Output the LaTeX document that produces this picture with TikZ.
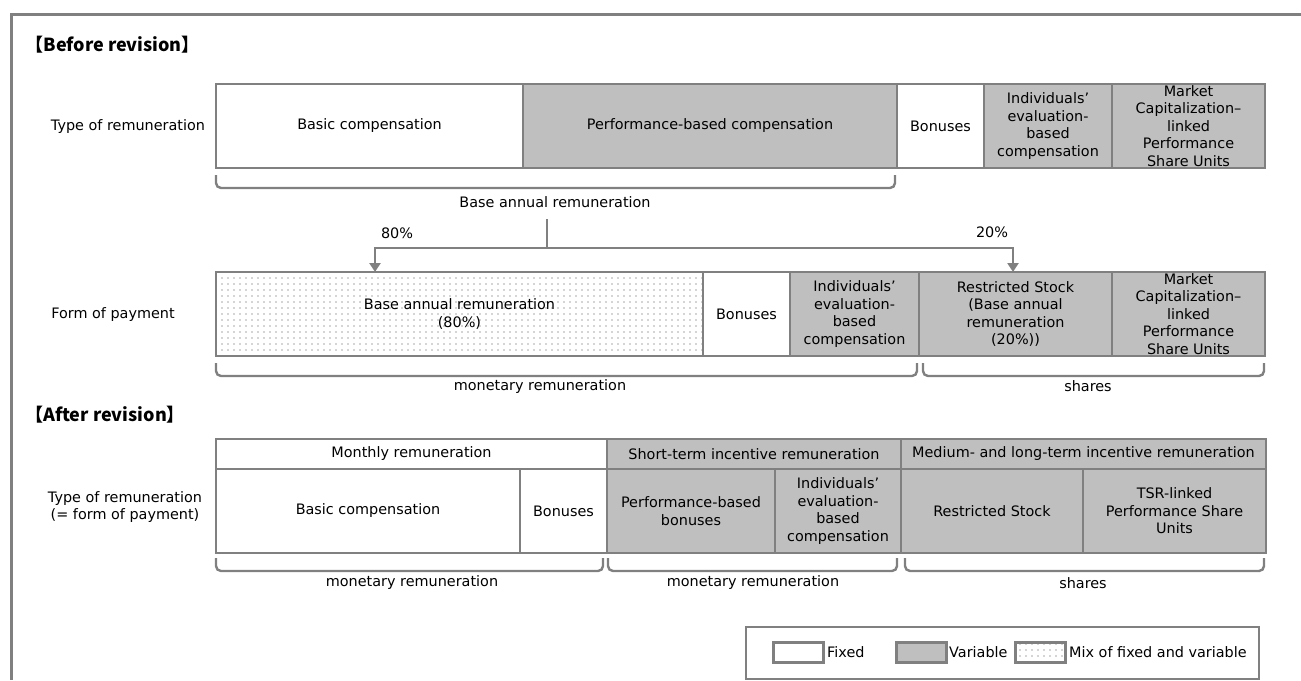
\documentclass[tikz,border=0pt]{standalone}
\usepackage{fontspec}
\setmainfont{DejaVu Sans}
\newfontfamily\cjk{Noto Sans CJK JP}
\usetikzlibrary{arrows.meta,patterns.meta}
\definecolor{linegray}{HTML}{808080}
\definecolor{varfill}{HTML}{BFBFBF}
\tikzset{
  txt/.style={font=\fontsize{14.4}{17.6}\selectfont},
  cell/.style={txt,draw=linegray,line width=2.6pt,inner sep=0pt,outer sep=0pt,align=center},
  fixcell/.style={fill=white},
  varcell/.style={fill=varfill},
  mixcell/.style={preaction={fill=white},pattern={Dots[distance=6pt,radius=0.6pt]},pattern color=black!70},
  bracket/.style={draw=linegray,line width=2.4pt,rounded corners=5pt},
  conn/.style={draw=linegray,line width=2.6pt},
  arr/.style={conn,-{Triangle[length=9pt,width=11pt]}},
  title/.style={anchor=west,font=\cjk\bfseries\fontsize{18}{21}\selectfont}
}
\begin{document}
\begin{tikzpicture}[x=1pt,y=-1pt]
    \useasboundingbox (0,0) rectangle (1301,680);
    \draw[linegray,line width=2.8pt] (11.5,680) -- (11.5,14.5) -- (1301,14.5);

    % before revision
    \node[title] (before) at (22,45) {【Before revision】};
    \node[txt] (lbl-type) at (128,127) {Type of remuneration};
    \foreach \xa/\xb/\st/\txt/\nm in {
        216/523/fixcell/Basic compensation/bc,
        523/897/varcell/Performance-based compensation/pbc,
        897/984/fixcell/Bonuses/bon,
        984/1112/varcell/{Individuals’\\evaluation-\\based\\compensation}/iec,
        1112/1265/varcell/{Market\\Capitalization–\\linked\\Performance\\Share Units}/mcl} {
        \node[cell,\st,minimum width={\xb pt-\xa pt},minimum height=84pt] (r1-\nm) at ({(\xa+\xb)/2},126) {\txt};
    }

    \node[txt] (lbl-form) at (113,315) {Form of payment};
    \foreach \xa/\xb/\st/\txt/\nm in {
        216/703/mixcell/{Base annual remuneration\\(80\%)}/bar,
        703/790/fixcell/Bonuses/bon,
        790/919/varcell/{Individuals’\\evaluation-\\based\\compensation}/iec,
        919/1112/varcell/{Restricted Stock\\(Base annual\\remuneration\\(20\%))}/rs,
        1112/1265/varcell/{Market\\Capitalization–\\linked\\Performance\\Share Units}/mcl} {
        \node[cell,\st,minimum width={\xb pt-\xa pt},minimum height=84pt] (r2-\nm) at ({(\xa+\xb)/2},314) {\txt};
    }

    % after revision
    \node[title] (after) at (22,415) {【After revision】};
    \node[txt,align=center] (lbl-after) at (125,507) {Type of remuneration\\(= form of payment)};
    \foreach \xa/\xb/\st/\txt/\nm in {
        216/607/fixcell/Monthly remuneration/mon,
        607/901/varcell/Short-term incentive remuneration/sti,
        901/1266/varcell/Medium- and long-term incentive remuneration/lti} {
        \node[cell,\st,minimum width={\xb pt-\xa pt},minimum height=30pt] (h3-\nm) at ({(\xa+\xb)/2},454) {\txt};
    }
    \foreach \xa/\xb/\st/\txt/\nm in {
        216/520/fixcell/Basic compensation/bc,
        520/607/fixcell/Bonuses/bon,
        607/775/varcell/{Performance-based\\bonuses}/pbb,
        775/901/varcell/{Individuals’\\evaluation-\\based\\compensation}/iec,
        901/1083/varcell/Restricted Stock/rs,
        1083/1266/varcell/{TSR-linked\\Performance Share\\Units}/tsr} {
        \node[cell,\st,minimum width={\xb pt-\xa pt},minimum height=84pt] (r3-\nm) at ({(\xa+\xb)/2},511) {\txt};
    }

    % brackets under the rows
    \foreach \xa/\xb/\yt in {216/895/175,216/917/363,923/1264/363,216/603/558,608/897/558,905/1264/558} {
        \draw[bracket] (\xa,\yt) |- (\xb,\yt+13) -- (\xb,\yt);
    }
    \node[txt] (bal) at (555,202) {Base annual remuneration};
    \node[txt] (mon1) at (540,387) {monetary remuneration};
    \node[txt] (shr1) at (1088,386) {shares};
    \node[txt] (mon2) at (412,583) {monetary remuneration};
    \node[txt] (mon3) at (753,583) {monetary remuneration};
    \node[txt] (shr2) at (1083,583) {shares};

    % split of base annual remuneration
    \coordinate (stem) at (547,219);
    \coordinate (split) at (547,248);
    \coordinate (to80) at (375,272);
    \coordinate (to20) at (1013,272);
    \draw[conn] (stem) -- (split);
    \draw[arr] (split) -| (to80);
    \draw[arr] (split) -| (to20);
    \node[txt] (p80) at (397,233) {80\%};
    \node[txt] (p20) at (992,232) {20\%};

    % legend
    \node[draw=linegray,line width=1.8pt,minimum width=513pt,minimum height=52pt,inner sep=0pt] (legend) at (1002.5,653) {};
    \node[cell,fixcell,line width=3pt,minimum width=50pt,minimum height=20pt] (sw-fix) at (798,652) {};
    \node[cell,varcell,line width=3pt,minimum width=50pt,minimum height=20pt] (sw-var) at (921,652) {};
    \node[cell,mixcell,line width=3pt,minimum width=50pt,minimum height=20pt] (sw-mix) at (1040,652) {};
    \node[txt,anchor=west,inner sep=0pt] (lg-fix) at (827,652) {Fixed};
    \node[txt,anchor=west,inner sep=0pt] (lg-var) at (949,652) {Variable};
    \node[txt,anchor=west,inner sep=0pt] (lg-mix) at (1069,652) {Mix of fixed and variable};
\end{tikzpicture}
\end{document}
